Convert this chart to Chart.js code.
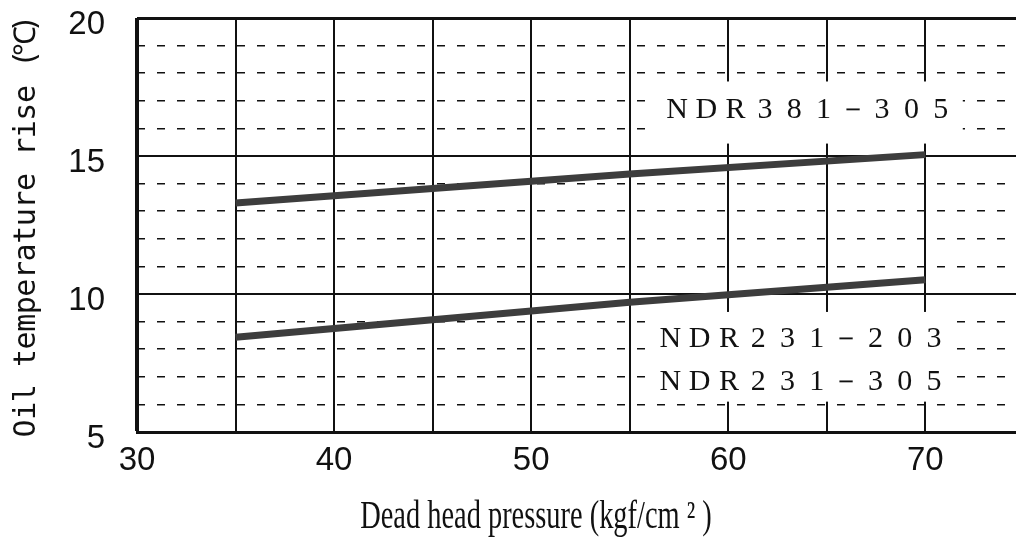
<!DOCTYPE html>
<html>
<head>
<meta charset="utf-8">
<script src="https://cdn.jsdelivr.net/npm/chart.js@4.4.1/dist/chart.umd.min.js"></script>
<style>
  html, body { margin: 0; padding: 0; background: #fff; }
  canvas { display: block; }
</style>
</head>
<body>
<canvas id="chart" width="1016" height="538"></canvas>
<script>
// pressure (kgf/cm2) and oil temperature rise (deg C) per pump model
const pressure = [35, 55, 70];
const riseNdr381 = [13.3, 14.35, 15.05];
const riseNdr231 = [8.43, 9.7, 10.52];

const xTickLabels = [30, 40, 50, 60, 70];
const yTickLabels = [5, 10, 15, 20];
const modelNames = ['NDR381－305', 'NDR231－203', 'NDR231－305'];
const xTitle = 'Dead head pressure (kgf/cm ² )';
const yTitle = 'Oil temperature rise (℃)';

const INK = '#111';

// draw a string one glyph at a time on a fixed pitch (typewriter look)
function drawPitched(ctx, text, x0, y0, pitch) {
  [...text].forEach((ch, i) => ctx.fillText(ch, x0 + i * pitch, y0));
}

// letter-spaced model names on white panels, plus the axis titles
const labelsPlugin = {
  id: 'labels',
  afterDatasetsDraw(chart) {
    const { ctx, scales: { x, y } } = chart;
    const px = v => x.getPixelForValue(v);
    const py = v => y.getPixelForValue(v);
    ctx.save();

    ctx.fillStyle = '#fff';
    ctx.fillRect(px(56.3), py(17.7), px(71.9) - px(56.3), py(15.45) - py(17.7));
    ctx.fillRect(px(56.3), py(9.35), px(71.5) - px(56.3), py(6.1) - py(9.35));

    ctx.fillStyle = INK;
    ctx.font = '30px "Liberation Serif", serif';
    ctx.textAlign = 'center';
    ctx.textBaseline = 'alphabetic';
    drawPitched(ctx, modelNames[0], px(57.4), py(16.74) + 10, 29.3);
    drawPitched(ctx, modelNames[1], px(57.06), py(8.46) + 10, 29.3);
    drawPitched(ctx, modelNames[2], px(57.06), py(6.9) + 10, 29.3);
    ctx.restore();
  },
  afterDraw(chart) {
    const { ctx } = chart;
    ctx.save();
    ctx.fillStyle = INK;
    ctx.textAlign = 'center';
    ctx.textBaseline = 'alphabetic';

    // x title, narrow serif
    ctx.save();
    ctx.translate(536, 528);
    ctx.scale(0.71, 1);
    ctx.font = '40px "Liberation Serif", serif';
    ctx.fillText(xTitle, 0, 0);
    ctx.restore();

    // y title, monospace, reading bottom to top
    ctx.save();
    ctx.translate(35, 226);
    ctx.rotate(-Math.PI / 2);
    ctx.font = '30px "DejaVu Sans Mono", monospace';
    const pitch = 17.6;
    const n = [...yTitle].length;
    drawPitched(ctx, yTitle, -pitch * n / 2 + pitch / 2, 0, pitch);
    ctx.restore();

    ctx.restore();
  }
};

const tickFont = { family: "'Liberation Sans', Arial, sans-serif", size: 33, lineHeight: 1 };

new Chart(document.getElementById('chart'), {
  type: 'line',
  data: {
    datasets: [
      {
        label: modelNames[0],
        data: pressure.map((p, i) => ({ x: p, y: riseNdr381[i] })),
        borderColor: '#3d3d3d',
        borderWidth: 7,
        pointRadius: 0,
        tension: 0
      },
      {
        label: modelNames[1] + ' / ' + modelNames[2],
        data: pressure.map((p, i) => ({ x: p, y: riseNdr231[i] })),
        borderColor: '#3d3d3d',
        borderWidth: 7,
        pointRadius: 0,
        tension: 0
      }
    ]
  },
  options: {
    responsive: false,
    animation: false,
    layout: { padding: { top: 18, right: 0, bottom: 0, left: 0 } },
    plugins: {
      legend: { display: false },
      tooltip: { enabled: false }
    },
    scales: {
      x: {
        type: 'linear',
        position: 'bottom',
        min: 30,
        max: 74.6,
        afterBuildTicks: s => { s.ticks = s.ticks.filter(t => t.value % 5 === 0); },
        afterFit: s => { s.height = 106; s.paddingLeft = 0; s.paddingRight = 0; },
        ticks: {
          stepSize: 5,
          includeBounds: false,
          autoSkip: false,
          maxRotation: 0,
          padding: 12,
          color: INK,
          font: tickFont,
          callback: v => xTickLabels.includes(v) ? String(v) : ''
        },
        grid: {
          color: INK,
          lineWidth: c => c.tick && c.tick.value === 30 ? 4 : 2,
          drawTicks: false
        },
        border: { display: true, color: INK, width: 3 }
      },
      y: {
        position: 'left',
        min: 5,
        max: 20,
        afterFit: s => { s.width = 137; s.paddingTop = 0; s.paddingBottom = 0; },
        ticks: {
          stepSize: 5,
          padding: 32,
          labelOffset: 7,
          color: INK,
          font: tickFont,
          callback: v => yTickLabels.includes(v) ? String(v) : ''
        },
        grid: {
          color: INK,
          lineWidth: c => c.tick && c.tick.value === 20 ? 3 : 2,
          drawTicks: false
        },
        border: { display: false }
      },
      // dashed one-degree lines between the solid five-degree lines
      yMinor: {
        position: 'left',
        min: 5,
        max: 20,
        afterBuildTicks: s => { s.ticks = s.ticks.filter(t => t.value % 5 !== 0); },
        afterFit: s => { s.width = 0; s.paddingTop = 0; s.paddingBottom = 0; },
        ticks: { stepSize: 1, display: false },
        grid: { color: INK, lineWidth: 1.6, drawTicks: false },
        border: { display: false, width: 0, color: 'rgba(0,0,0,0)', dash: [8, 12] }
      }
    }
  },
  plugins: [labelsPlugin]
});
</script>
</body>
</html>
